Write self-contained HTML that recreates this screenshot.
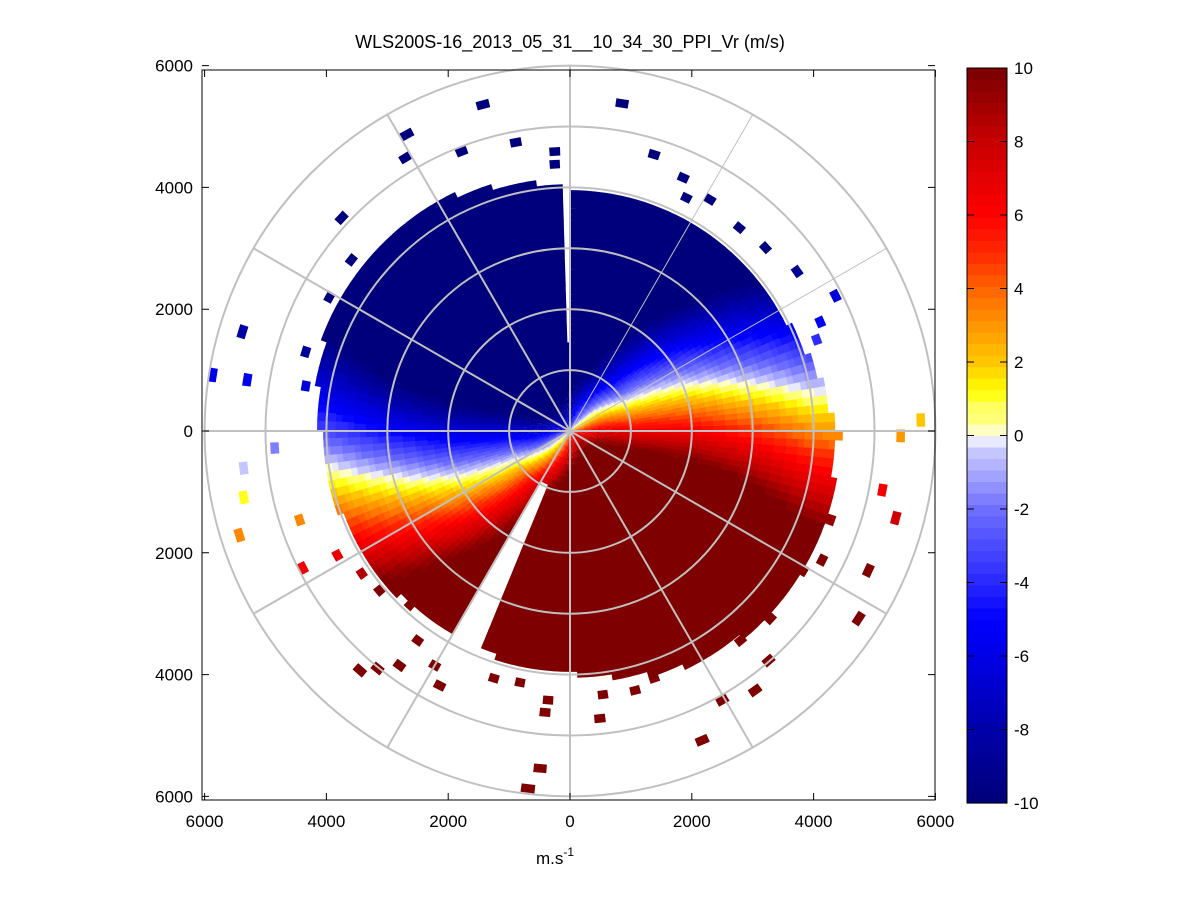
<!DOCTYPE html>
<html><head><meta charset="utf-8"><style>
html,body{margin:0;padding:0;background:#fff;}
svg{display:block;font-family:"Liberation Sans",Arial,sans-serif;}
</style></head><body>
<svg id="chart" width="1201" height="901" viewBox="0 0 1201 901">
<rect x="0" y="0" width="1201" height="901" fill="#fff"/>
<defs><clipPath id="axclip"><rect x="202" y="66" width="734" height="736"/></clipPath></defs>
<g id="plot" clip-path="url(#axclip)"></g>
<g id="grid"></g>
<rect x="202" y="70" width="733" height="730" fill="none" stroke="#000" stroke-width="1"/>
<g id="ticks"></g>
<text x="570" y="48" text-anchor="middle" font-size="18">WLS200S-16_2013_05_31__10_34_30_PPI_Vr (m/s)</text>
<text x="555" y="864" text-anchor="middle" font-size="17">m.s<tspan dy="-8" font-size="12">-1</tspan></text>
<g id="cbar"></g>
</svg>
<script>
// ---- data arrays ----
const profileRange = [0, 500, 1000, 2000, 3000, 4000, 5000, 6000];
const profileSpeed = [6, 11, 14, 17, 19, 20, 20, 20];
const profileDir = [135, 142, 152, 158, 165, 171, 172, 172];
const edgeAz = [0, 30, 60, 90, 120, 150, 180, 210, 240, 270, 300, 330, 360];
const edgeRange = [3950, 3900, 3900, 4300, 4450, 4300, 3930, 3800, 3900, 4050, 4350, 4300, 3950];
const gapAzStart = [357, 201];
const gapAzEnd = [359.5, 208.5];
const gapRangeStart = [1400, 900];
const sparseX = [-1430,855,-2680,-2700,-1780,-890,-250,-250,1380,1860,1910,2300,2780,3210,3730,4360,4110,4050,-3750,-3590,-3950,-5380,-5300,-5870,-4340,-4340,-4850,-5360,-5360,-5430,-4440,-4390,-3820,-3420,-3130,-2630,-2500,-2220,-2800,-3450,-3160,-2140,-1250,-820,-360,-410,-490,-690,490,540,1070,1380,1970,2170,2500,3040,2800,3260,3290,3830,4140,4740,4900,5130,5350,5430,5760,4410,4210,4110,4280,3780];
const sparseY = [5360,5380,4870,4490,4590,4740,4590,4380,4540,4160,3830,3800,3340,3010,2620,2220,1790,1500,3500,2810,2200,1630,840,920,1300,740,-280,-610,-1090,-1710,-1460,-2250,-2040,-2340,-2620,-2860,-3440,-3850,-3850,-3930,-3900,-4180,-4060,-4130,-4420,-4620,-5540,-5870,-4720,-4330,-4260,-4060,-3770,-5080,-4420,-4260,-3440,-3770,-3080,-2290,-2120,-3080,-2290,-970,-1430,-80,180,-70,-400,-810,-1460,-1300];
const axisTicks = [-6000, -4000, -2000, 0, 2000, 4000, 6000];
const cbarTicks = [-10, -8, -6, -4, -2, 0, 2, 4, 6, 8, 10];
const colorStops = [-10,-8,-6,-5,-4,-2,-0.35,0,0.35,0.7,1.2,2,3,4,5,6,8,10];
const colorR = [0,0,0,0,40,110,205,255,255,255,255,255,255,255,255,255,200,120];
const colorG = [0,0,0,0,40,110,205,255,255,255,255,200,150,100,40,0,0,0];
const colorB = [120,170,230,255,255,255,255,255,120,120,0,0,0,0,0,0,0,0];
// ---- scales ----
const CX = 570, CY = 431, PX = 0.0609;
const sx = m => CX + m * PX;
const sy = m => CY - m * PX;
const NS = 'http://www.w3.org/2000/svg';
function interp(xs, ys, x){
  if (x <= xs[0]) return ys[0];
  for (let i = 1; i < xs.length; i++) if (x <= xs[i]) { const t = (x - xs[i-1]) / (xs[i] - xs[i-1]); return ys[i-1] + t * (ys[i] - ys[i-1]); }
  return ys[ys.length-1];
}
function color(v){
  v = Math.max(-10, Math.min(10, v));
  const q = Math.min(63, Math.floor((v + 10) / 20 * 64));
  const vq = -10 + (q + 0.5) * 20 / 64;
  return 'rgb(' + Math.round(interp(colorStops, colorR, vq)) + ',' + Math.round(interp(colorStops, colorG, vq)) + ',' + Math.round(interp(colorStops, colorB, vq)) + ')';
}
function vr(az, r){
  const s = interp(profileRange, profileSpeed, r);
  const d = interp(profileRange, profileDir, r);
  return s * Math.cos((az - d) * Math.PI / 180);
}
function pt(az, r){ const a = az * Math.PI / 180; return [sx(r * Math.sin(a)), sy(r * Math.cos(a))]; }
function cell(az0, az1, r0, r1){
  const a = pt(az0, r0), b = pt(az1, r0), c = pt(az1, r1), d = pt(az0, r1);
  return 'M' + a[0].toFixed(1) + ' ' + a[1].toFixed(1) + 'L' + b[0].toFixed(1) + ' ' + b[1].toFixed(1) + 'L' + c[0].toFixed(1) + ' ' + c[1].toFixed(1) + 'L' + d[0].toFixed(1) + ' ' + d[1].toFixed(1) + 'Z';
}
function inGap(az, r){
  for (let i = 0; i < gapAzStart.length; i++) if (az + 1 > gapAzStart[i] && az < gapAzEnd[i] && r >= gapRangeStart[i]) return true;
  return false;
}
const plot = document.getElementById('plot');
const dAz = 2, dR = 100;
const groups = {};
for (let az = 0; az < 360; az += dAz) {
  const maxR = interp(edgeAz, edgeRange, az + dAz / 2);
  for (let r = 50; r < maxR; r += dR) {
    if (inGap(az, r)) continue;
    const col = color(vr(az + dAz / 2, r + dR / 2));
    (groups[col] = groups[col] || []).push(cell(az, az + dAz + 0.3, r, r + dR + 5));
  }
}
for (let i = 0; i < sparseX.length; i++) {
  const r = Math.hypot(sparseX[i], sparseY[i]);
  let az = Math.atan2(sparseX[i], sparseY[i]) * 180 / Math.PI; if (az < 0) az += 360;
  const col = color(vr(az, r));
  (groups[col] = groups[col] || []).push(cell(az - 1.1, az + 1.1, r - 70, r + 70));
}
for (const col in groups) {
  const p = document.createElementNS(NS, 'path');
  p.setAttribute('d', groups[col].join(''));
  p.setAttribute('fill', col);
  
  
  plot.appendChild(p);
}
// grid
const grid = document.getElementById('grid');
for (let k = 1; k <= 6; k++) {
  const c = document.createElementNS(NS, 'circle');
  c.setAttribute('cx', CX); c.setAttribute('cy', CY); c.setAttribute('r', k * 1000 * PX);
  c.setAttribute('fill', 'none'); c.setAttribute('stroke', '#c0c0c0'); c.setAttribute('stroke-width', '2');
  
  
  grid.appendChild(c);
}
for (let a = 0; a < 360; a += 30) {
  const e = pt(a, 6000);
  const l = document.createElementNS(NS, 'line');
  l.setAttribute('x1', CX); l.setAttribute('y1', CY); l.setAttribute('x2', e[0]); l.setAttribute('y2', e[1]);
  l.setAttribute('stroke', '#c0c0c0'); l.setAttribute('stroke-width', (a === 30 || a === 60) ? '1' : '2');
  
  
  grid.appendChild(l);
}
// axis ticks
const ticks = document.getElementById('ticks');
function addText(parent, x, y, s, anchor, name){
  const t = document.createElementNS(NS, 'text');
  t.setAttribute('x', x); t.setAttribute('y', y); t.setAttribute('font-size', '17'); t.setAttribute('text-anchor', anchor);
  t.textContent = s;
  
  
  parent.appendChild(t);
}
axisTicks.forEach(v => {
  addText(ticks, sx(v), 827, String(Math.abs(v)), 'middle', 'x-tick-label');
  addText(ticks, 193, sy(v) + 6, String(Math.abs(v)), 'end', 'y-tick-label');
  const a = document.createElementNS(NS, 'path');
  a.setAttribute('d', 'M' + sx(v) + ' 800v-7M' + sx(v) + ' 70v7M202 ' + sy(v) + 'h7M935 ' + sy(v) + 'h-7');
  a.setAttribute('stroke', '#000');
  
  
  ticks.appendChild(a);
});
// colorbar
const cb = document.getElementById('cbar');
const CB0 = 68, CB1 = 803, CBX = 967, CBW = 40;
for (let q = 0; q < 64; q++) {
  const v = -10 + (q + 0.5) * 20 / 64;
  const y1 = CB1 - (q + 1) * (CB1 - CB0) / 64;
  const r = document.createElementNS(NS, 'rect');
  r.setAttribute('x', CBX); r.setAttribute('y', y1.toFixed(2)); r.setAttribute('width', CBW); r.setAttribute('height', ((CB1 - CB0) / 64 + 0.6).toFixed(2));
  r.setAttribute('fill', color(v));
  
  
  cb.appendChild(r);
}
const fr = document.createElementNS(NS, 'rect');
fr.setAttribute('x', CBX); fr.setAttribute('y', CB0); fr.setAttribute('width', CBW); fr.setAttribute('height', CB1 - CB0);
fr.setAttribute('fill', 'none'); fr.setAttribute('stroke', '#000');


cb.appendChild(fr);
cbarTicks.forEach(v => {
  const y = CB1 - (v + 10) / 20 * (CB1 - CB0);
  const m = document.createElementNS(NS, 'path');
  m.setAttribute('d', 'M' + CBX + ' ' + y + 'h7M' + (CBX + CBW) + ' ' + y + 'h-7');
  m.setAttribute('stroke', '#000');
  
  
  cb.appendChild(m);
  addText(cb, 1014, y + 6, String(v), 'start', 'colorbar-tick-label');
});
</script>
</body></html>
